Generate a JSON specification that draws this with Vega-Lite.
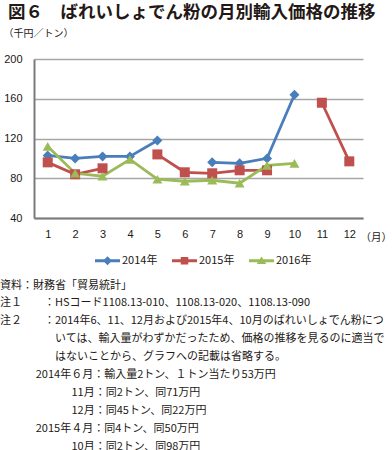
{
  "$schema": "https://vega.github.io/schema/vega-lite/v6.json",
  "background": "white",
  "padding": {"left": 0, "top": 3, "right": 0, "bottom": 0},
  "title": {
    "text": "図６　ばれいしょでん粉の月別輸入価格の推移",
    "anchor": "start",
    "frame": "bounds",
    "font": "Noto Sans CJK JP",
    "fontSize": 17.5,
    "fontWeight": "bold",
    "color": "#231815",
    "dx": 8,
    "offset": 7
  },
  "spacing": 0,
  "config": {
    "view": {"stroke": null},
    "font": "Noto Sans CJK JP",
    "axis": {"labelColor": "#231815", "titleColor": "#231815"}
  },
  "vconcat": [
    {
      "width": 329,
      "height": 159,
      "title": {
        "text": [
          "資料：財務省「貿易統計」",
          "注１　　：HSコード1108.13-010、1108.13-020、1108.13-090",
          "注２　　：2014年6、11、12月および2015年4、10月のばれいしょでん粉につ",
          "\u200B　　　　　いては、輸入量がわずかだったため、価格の推移を見るのに適当で",
          "\u200B　　　　　はないことから、グラフへの記載は省略する。",
          "\u200B　　　\u20052014年６月：輸入量2トン、１トン当たり53万円",
          "\u200B　　　　　　\u200211月：同2トン、同71万円",
          "\u200B　　　　　　\u200212月：同45トン、同22万円",
          "\u200B　　　\u20052015年４月：同4トン、同50万円",
          "\u200B　　　　　　\u200210月：同2トン、同98万円"
        ],
        "orient": "bottom",
        "anchor": "start",
        "frame": "bounds",
        "font": "Noto Sans CJK JP",
        "fontSize": 11,
        "fontWeight": "normal",
        "color": "#231815",
        "lineHeight": 17.9,
        "dx": -3,
        "offset": 37
      },
      "data": {
        "values": [
          {"month": 1, "year": "2014年", "price": 103},
          {"month": 2, "year": "2014年", "price": 100},
          {"month": 3, "year": "2014年", "price": 102},
          {"month": 4, "year": "2014年", "price": 102},
          {"month": 5, "year": "2014年", "price": 118},
          {"month": 6, "year": "2014年", "price": null},
          {"month": 7, "year": "2014年", "price": 96},
          {"month": 8, "year": "2014年", "price": 95},
          {"month": 9, "year": "2014年", "price": 100},
          {"month": 10, "year": "2014年", "price": 164},
          {"month": 1, "year": "2015年", "price": 96},
          {"month": 2, "year": "2015年", "price": 84},
          {"month": 3, "year": "2015年", "price": 90},
          {"month": 4, "year": "2015年", "price": null},
          {"month": 5, "year": "2015年", "price": 104},
          {"month": 6, "year": "2015年", "price": 86},
          {"month": 7, "year": "2015年", "price": 85},
          {"month": 8, "year": "2015年", "price": 88},
          {"month": 9, "year": "2015年", "price": 88},
          {"month": 10, "year": "2015年", "price": null},
          {"month": 11, "year": "2015年", "price": 156},
          {"month": 12, "year": "2015年", "price": 97},
          {"month": 1, "year": "2016年", "price": 112},
          {"month": 2, "year": "2016年", "price": 85},
          {"month": 3, "year": "2016年", "price": 82},
          {"month": 4, "year": "2016年", "price": 99},
          {"month": 5, "year": "2016年", "price": 79},
          {"month": 6, "year": "2016年", "price": 77},
          {"month": 7, "year": "2016年", "price": 78},
          {"month": 8, "year": "2016年", "price": 75},
          {"month": 9, "year": "2016年", "price": 93},
          {"month": 10, "year": "2016年", "price": 95}
        ]
      },
      "encoding": {
        "x": {
          "field": "month",
          "type": "ordinal",
          "scale": {"type": "point", "padding": 0.5},
          "axis": {
            "title": "（月）",
            "titleFont": "Noto Sans CJK JP",
            "titleFontSize": 10.5,
            "titleFontWeight": "normal",
            "titleAlign": "left",
            "titleBaseline": "middle",
            "titleX": 326,
            "titleY": 19,
            "labelAngle": 0,
            "labelFont": "Liberation Sans",
            "labelFontSize": 11,
            "labelPadding": 10,
            "ticks": false,
            "tickSize": 0,
            "domainColor": "#7a7a7a",
            "domainWidth": 2,
            "grid": false
          }
        },
        "y": {
          "field": "price",
          "type": "quantitative",
          "scale": {"domain": [40, 200], "nice": false, "zero": false},
          "axis": {
            "title": "（千円／トン）",
            "titleFont": "Noto Sans CJK JP",
            "titleFontSize": 10,
            "titleFontWeight": "normal",
            "titleAngle": 0,
            "titleAlign": "left",
            "titleBaseline": "middle",
            "titleX": -31,
            "titleY": -26,
            "values": [40, 80, 120, 160, 200],
            "labelFont": "Liberation Sans",
            "labelFontSize": 11,
            "labelPadding": 12,
            "ticks": false,
            "tickSize": 0,
            "domainColor": "#7a7a7a",
            "domainWidth": 2,
            "grid": true,
            "gridColor": "#a6a6a6",
            "gridWidth": 1.3
          }
        },
        "color": {
          "field": "year",
          "type": "nominal",
          "scale": {"domain": ["2014年", "2015年", "2016年"], "range": ["#4a7ebb", "#c0504d", "#9bbb59"]},
          "legend": {
            "title": null,
            "orient": "none",
            "legendX": 61,
            "legendY": 189,
            "direction": "horizontal",
            "symbolSize": 625,
            "symbolType": "M-1,-0.12H1V0.12H-1Z",
            "labelFont": "Noto Sans CJK JP",
            "labelFontSize": 11,
            "labelColor": "#231815",
            "labelOffset": 2,
            "columnPadding": 14,
            "encode": {
              "symbols": {
                "update": {
                  "shape": {"signal": "datum.value === '2014年' ? 'M-1,-0.12H1V0.12H-1Z M0,-0.36L0.36,0L0,0.36L-0.36,0Z' : datum.value === '2015年' ? 'M-1,-0.12H1V0.12H-1Z M-0.3,-0.3H0.3V0.3H-0.3Z' : 'M-1,-0.12H1V0.12H-1Z M0,-0.34L0.38,0.26H-0.38Z'"},
                  "fill": {"scale": "color", "field": "value"},
                  "fillOpacity": {"value": 1},
                  "strokeWidth": {"value": 0}
                }
              }
            }
          }
        }
      },
      "layer": [
        {
          "mark": {"type": "line", "strokeWidth": 2.8}
        },
        {
          "transform": [{"filter": "datum.year === '2014年'"}],
          "mark": {"type": "point", "shape": "diamond", "filled": true, "opacity": 1, "size": 100}
        },
        {
          "transform": [{"filter": "datum.year === '2015年'"}],
          "mark": {"type": "point", "shape": "square", "filled": true, "opacity": 1, "size": 100}
        },
        {
          "transform": [{"filter": "datum.year === '2016年'"}],
          "mark": {"type": "point", "shape": "triangle-up", "filled": true, "opacity": 1, "size": 100}
        }
      ]
    }
  ]
}
